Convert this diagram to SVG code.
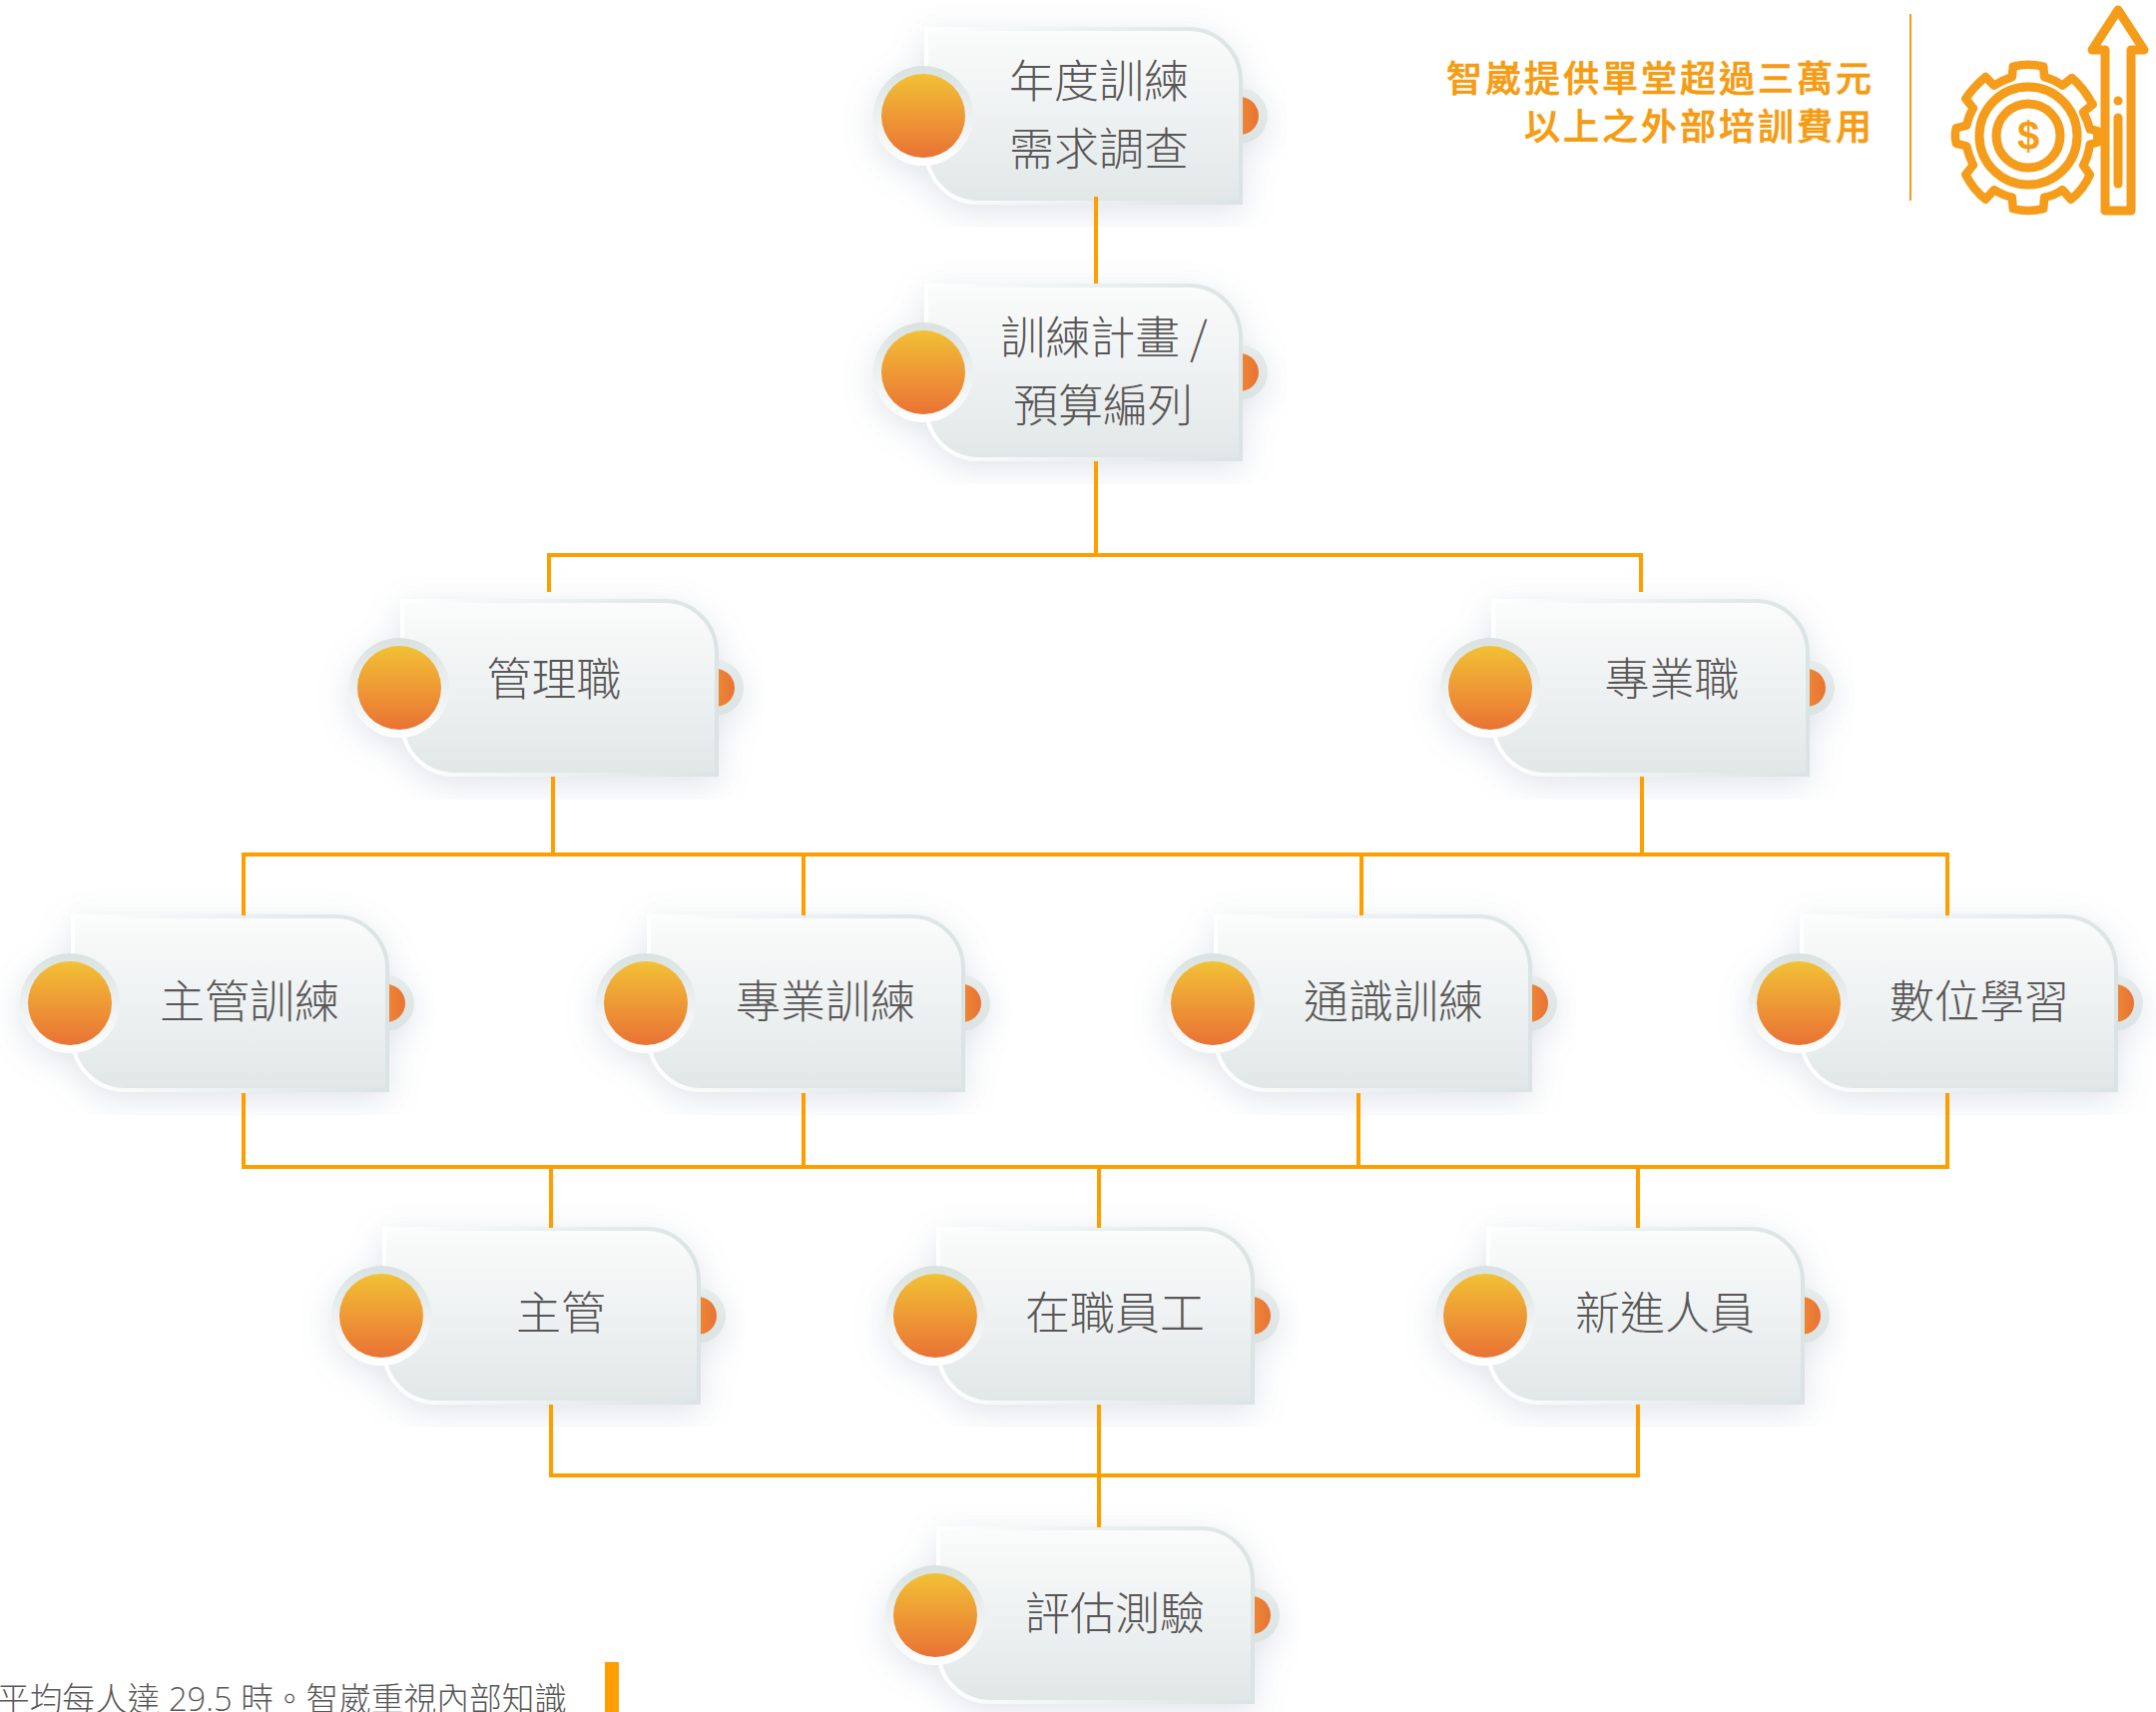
<svg xmlns="http://www.w3.org/2000/svg" xmlns:xlink="http://www.w3.org/1999/xlink" width="2160" height="1715" viewBox="0 0 2160 1715">
<style>
.lbl{font-family:"Noto Sans CJK TC","Noto Sans",sans-serif;font-weight:300;font-size:45px;fill:#595757;text-anchor:middle}
.cn{fill:none;stroke:#ff9e00;stroke-width:4}
.side{font-family:"Noto Sans CJK TC",sans-serif;font-weight:500;font-size:36px;letter-spacing:3px;fill:#f59c12;stroke:#f59c12;stroke-width:.6px;text-anchor:end}
.para{font-family:"Open Sans","Noto Sans CJK TC",sans-serif;font-weight:300;font-size:32.700px;fill:#595757}
.ic{fill:none;stroke:#f59c1a;stroke-width:9;stroke-linejoin:round;stroke-linecap:round}
</style>
<defs>
<linearGradient id="bf" x1="0" y1="0" x2="0" y2="1"><stop offset="0" stop-color="#fbfcfc"/><stop offset="1" stop-color="#e1e7e7"/></linearGradient>
<linearGradient id="bs" x1="0" y1="0" x2="1" y2="0"><stop offset="0" stop-color="#ffffff"/><stop offset=".45" stop-color="#eef2f2"/><stop offset="1" stop-color="#dbe3e3"/></linearGradient>
<linearGradient id="ring" x1="0" y1="0" x2="0" y2="1"><stop offset="0" stop-color="#d9e1e1"/><stop offset="1" stop-color="#ffffff"/></linearGradient>
<linearGradient id="org" x1="0" y1="0" x2="0" y2="1"><stop offset="0" stop-color="#f2c136"/><stop offset="1" stop-color="#e97234"/></linearGradient>
<linearGradient id="org2" x1="0" y1="0" x2="1" y2="0"><stop offset="0" stop-color="#f0a035"/><stop offset="1" stop-color="#e97234"/></linearGradient>
<linearGradient id="ring2" x1="0" y1="0" x2="0" y2="1"><stop offset="0" stop-color="#e6ebeb"/><stop offset="1" stop-color="#dbe3e3"/></linearGradient>
<filter id="sh" filterUnits="userSpaceOnUse" x="-100" y="-130" width="464" height="242"><feDropShadow dx="0" dy="8" stdDeviation="16" flood-color="#7f8fa8" flood-opacity=".24"/></filter>
<g id="tag" filter="url(#sh)">
<circle cx="317" cy="0" r="28" fill="url(#ring2)"/>
<circle cx="317" cy="0" r="19" fill="url(#org2)"/>
<path d="M3 -87H266A52 52 0 0 1 318 -35V87H55A52 52 0 0 1 3 35Z" fill="url(#bf)" stroke="url(#bs)" stroke-width="4"/>
<circle cx="0" cy="0" r="50" fill="url(#ring)"/>
<circle cx="0" cy="0" r="42" fill="url(#org)"/>
</g>
</defs>
<g id="n1"><use href="#tag" x="925" y="116"/><text class="lbl" x="1101" y="98">年度訓練</text><text class="lbl" x="1101" y="166">需求調查</text></g>
<g id="n2"><use href="#tag" x="925" y="373"/><text class="lbl" x="1106" y="355">訓練計畫 /</text><text class="lbl" x="1105" y="423">預算編列</text></g>
<g id="n3"><use href="#tag" x="400" y="689"/><text class="lbl" x="555" y="697">管理職</text></g>
<g id="n4"><use href="#tag" x="1493" y="689"/><text class="lbl" x="1675" y="697">專業職</text></g>
<g id="n5"><use href="#tag" x="70" y="1005"/><text class="lbl" x="250" y="1020">主管訓練</text></g>
<g id="n6"><use href="#tag" x="647" y="1005"/><text class="lbl" x="827" y="1020">專業訓練</text></g>
<g id="n7"><use href="#tag" x="1215" y="1005"/><text class="lbl" x="1396" y="1020">通識訓練</text></g>
<g id="n8"><use href="#tag" x="1802" y="1005"/><text class="lbl" x="1983" y="1020">數位學習</text></g>
<g id="n9"><use href="#tag" x="382" y="1318"/><text class="lbl" x="562" y="1332">主管</text></g>
<g id="n10"><use href="#tag" x="937" y="1318"/><text class="lbl" x="1117" y="1332">在職員工</text></g>
<g id="n11"><use href="#tag" x="1488" y="1318"/><text class="lbl" x="1668" y="1332">新進人員</text></g>
<g id="n12"><use href="#tag" x="937" y="1618"/><text class="lbl" x="1117" y="1633">評估測驗</text></g>
<g id="connectors">
<path class="cn" d="M1098 197V284"/>
<path class="cn" d="M1098 462V556M550 593V556H1644V593"/>
<path class="cn" d="M554 778V856M1645 778V856M244 917V856H1951V917M805 856V917M1364 856V917"/>
<path class="cn" d="M244 1095V1169H1951V1095M805 1095V1169M1361 1095V1169M552 1169V1230M1101 1169V1230M1641 1169V1230"/>
<path class="cn" d="M552 1407V1478H1641V1407M1101 1407V1530"/>
</g>
<g id="side">
<text class="side" x="1878" y="92">智崴提供單堂超過三萬元</text>
<text class="side" x="1878" y="140">以上之外部培訓費用</text>
<rect x="1913" y="14" width="2" height="187" fill="#f59c1a"/>
</g>
<g id="icon">
<circle class="ic" cx="2032" cy="136" r="49"/>
<circle class="ic" cx="2032" cy="136" r="32"/>
<path class="ic" transform="translate(2032 136) scale(.95) translate(-2032 -135)" d="M2016 62Q2032 58 2048 62L2049 73Q2060 76 2068 82L2078 74Q2090 84 2100 102L2090 110Q2095 120 2097 128L2105 130V142L2097 144Q2095 158 2090 166L2097 176Q2090 192 2077 202L2068 192Q2060 198 2049 200L2048 212Q2032 216 2016 212L2015 200Q2006 198 1996 192L1987 202Q1974 192 1966 176L1974 166Q1969 156 1967 146L1956 143Q1954 135 1956 127L1967 124Q1969 114 1974 106L1966 96Q1974 84 1987 73L1996 82Q2006 76 2015 73Z"/>
<path class="ic" d="M2122 10L2096 50H2109M2122 10L2148 50H2135V211H2109V50"/>
<path class="ic" d="M2122 118V184"/>
<circle cx="2122" cy="101" r="4.500" fill="#f59c1a"/>
<text x="2032" y="150" font-family="Liberation Sans,sans-serif" font-weight="700" font-size="40" fill="#f59c1a" text-anchor="middle">$</text>
</g>
<g id="para">
<text class="para" x="-3" y="1714">平均每人達 29.5 時。智崴重視內部知識</text>
<rect x="606" y="1665" width="14" height="50" fill="#ff9e00"/>
</g>
</svg>
